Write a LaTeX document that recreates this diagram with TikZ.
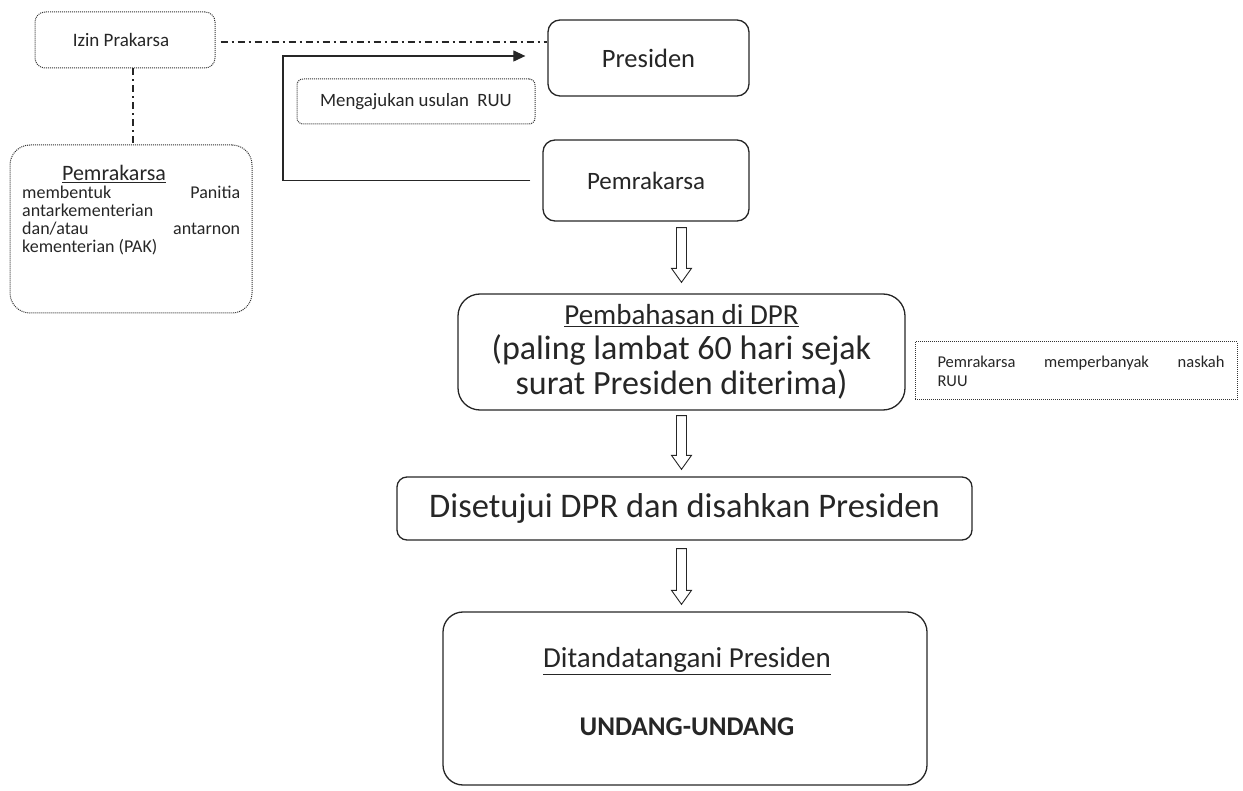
\documentclass[tikz,border=0pt]{standalone}
\usepackage{fontspec}
\setmainfont{Carlito}
\usetikzlibrary{calc,arrows.meta}
\begin{document}
\begin{tikzpicture}[x=1pt,y=-1pt,
  solidbox/.style={draw=black!85,line width=1.3pt,rounded corners=#1,align=center,inner sep=0pt,text=black!85},
  solidbox/.default=12pt,
  dotbox/.style={draw=black!80,line width=1pt,densely dotted,rounded corners=10pt,inner sep=0pt,text=black!85},
  hollow/.style={draw=black!85,line width=0.9pt,fill=white},
  link/.style={draw=black!85,line width=1.2pt},
  dashlink/.style={draw=black!85,line width=1.2pt,dash pattern=on 7pt off 4pt on 2pt off 4pt}
]
\useasboundingbox (0,0) rectangle (1243,791);
\newcommand\hollowarrow[2]{%
  \draw[hollow] ($(#1)+(-5,0)$) -- ($(#2)+(-5,-14)$) -- ($(#2)+(-10,-14)$) -- (#2)
    -- ($(#2)+(10,-14)$) -- ($(#2)+(5,-14)$) -- ($(#1)+(5,0)$) -- cycle;}

% nodes
\node[dotbox,minimum width=180pt,minimum height=56pt,font=\fontsize{19}{22}\selectfont] (izin) at (125,40) {Izin Prakarsa\hspace*{8pt}};
\node[solidbox,minimum width=201pt,minimum height=76pt,font=\fontsize{26.5}{30}\selectfont] (pres) at (648.5,58) {Presiden};
\node[dotbox,rounded corners=6pt,minimum width=238pt,minimum height=45pt,font=\fontsize{18.8}{22}\selectfont] (meng) at (416,101.5) {Mengajukan usulan~ RUU};
\node[solidbox,minimum width=206pt,minimum height=81pt,font=\fontsize{25}{30}\selectfont] (pemR) at (646,180.5) {Pemrakarsa};
\node[dotbox,rounded corners=20pt,minimum width=242pt,minimum height=168pt] (pemL) at (131,229) {};
\node[font=\fontsize{22}{26}\selectfont,text=black!85,inner sep=0pt] (pemLh) at (114,174) {\underline{Pemrakarsa}};
\node[font=\fontsize{18}{18}\selectfont,text=black!85,inner sep=0pt,anchor=north west] (pemLt) at (22,186) {%
  \parbox{218pt}{\raggedright membentuk\hfill Panitia\\ antarkementerian\\ dan/atau\hfill antarnon\\ kementerian (PAK)}};
\node[solidbox=22pt,minimum width=447pt,minimum height=116pt,font=\fontsize{34}{35}\selectfont] (pemb) at (681.5,352)
  {{\fontsize{29}{35}\selectfont\underline{Pembahasan di DPR}}\\(paling lambat 60 hari sejak\\surat Presiden diterima)};
\node[dotbox,rounded corners=0pt,minimum width=322pt,minimum height=58pt,font=\fontsize{16.5}{19}\selectfont] (perb) at (1076,371)
  {\hspace*{10pt}\parbox{287pt}{Pemrakarsa\hfill memperbanyak\hfill naskah\\RUU}};
\node[solidbox=10pt,minimum width=575pt,minimum height=63pt,font=\fontsize{34.5}{36}\selectfont] (dis) at (684.5,508.5)
  {Disetujui DPR dan disahkan Presiden};
\node[solidbox=20pt,minimum width=484pt,minimum height=173pt] (ditt) at (685,698.5) {};
\node[font=\fontsize{29}{32}\selectfont,text=black!85,inner sep=0pt] (ditt1) at (687,661) {\underline{Ditandatangani Presiden}};
\node[font=\fontsize{27}{32}\selectfont\bfseries,text=black!85,inner sep=0pt] (ditt2) at (687,727) {UNDANG-UNDANG};

% connectors
\draw[dashlink] ([xshift=5pt,yshift=-2pt]izin.east) -- ([yshift=-2pt]pres.west |- izin.east);
\draw[dashlink] ([xshift=8pt]izin.south) -- ([xshift=8pt]izin.south |- pemL.north);
\coordinate (bend) at (283,180.5);
\draw[link,-{Triangle[length=12pt,width=11pt]}] ([xshift=-12pt]pemR.west) -- (bend |- pemR.west) |- ([xshift=-22pt,yshift=2pt]pres.west);

\coordinate (a1) at ([yshift=-6pt]pemR.south -| pemb.north);
\coordinate (a1t) at ([yshift=11pt]pemb.north);
\hollowarrow{a1}{a1t}
\coordinate (a2) at ([yshift=-5pt]pemb.south);
\coordinate (a2t) at ([yshift=7pt]dis.north -| pemb.south);
\hollowarrow{a2}{a2t}
\coordinate (a3) at ([yshift=-8pt]dis.south -| pemb.south);
\coordinate (a3t) at ([yshift=7pt]ditt.north -| pemb.south);
\hollowarrow{a3}{a3t}
\end{tikzpicture}
\end{document}
